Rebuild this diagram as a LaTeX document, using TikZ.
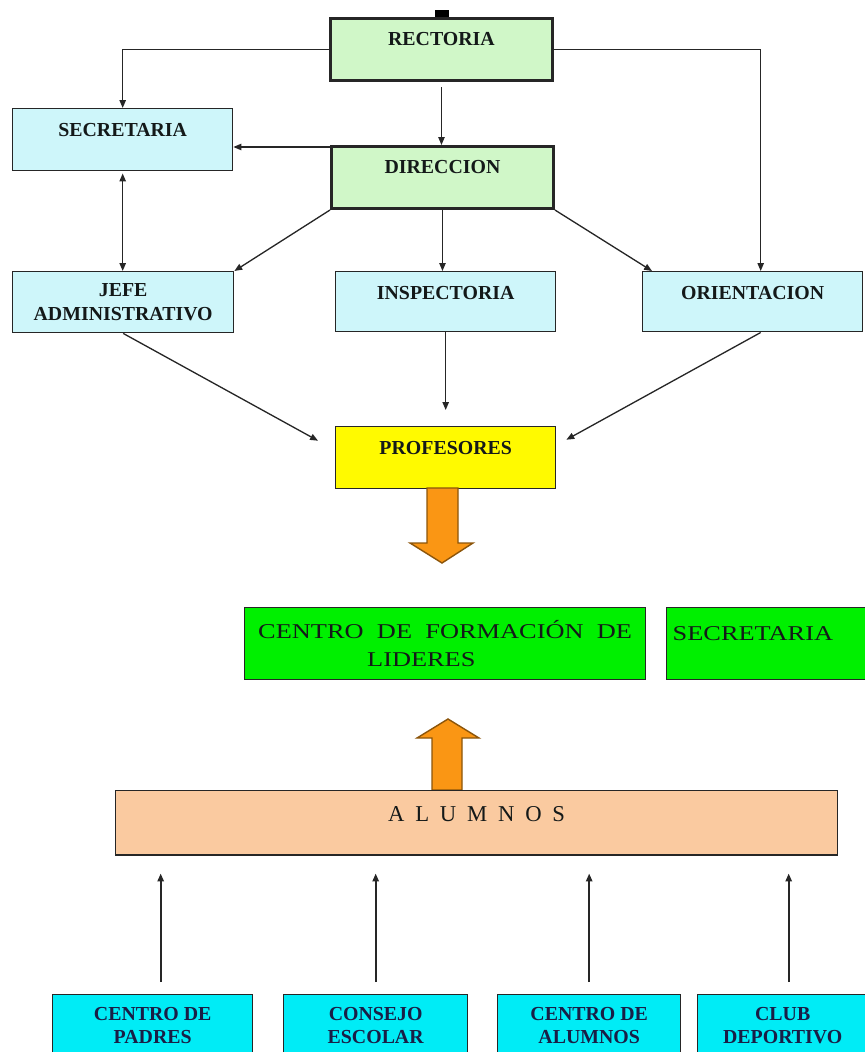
\documentclass[tikz,border=0pt]{standalone}
\usepackage{fontspec}
\setmainfont{Liberation Serif}
\newfontfamily\wideserif[FakeStretch=1.25]{Liberation Serif}
\usetikzlibrary{arrows.meta}

\definecolor{paleGreen}{RGB}{208,247,200}
\definecolor{paleCyan}{RGB}{206,246,250}
\definecolor{profYellow}{RGB}{255,250,0}
\definecolor{liveGreen}{RGB}{0,240,0}
\definecolor{peach}{RGB}{250,202,160}
\definecolor{aqua}{RGB}{0,236,246}
\definecolor{arrowOrange}{RGB}{250,150,20}
\definecolor{arrowEdge}{RGB}{140,85,10}
\definecolor{textDark}{RGB}{20,25,25}
\definecolor{textNavy}{RGB}{25,30,70}

\newcommand{\boxfont}{\fontsize{11.3}{13.4}\selectfont\bfseries}

\tikzset{
  conn/.style={->, line width=0.75pt, black!85},
  box/.style={draw=black!85, line width=0.8pt, anchor=north west, inner sep=0pt,
    align=center, font=\boxfont, text=textDark},
  boss/.style={box, fill=paleGreen, line width=1.7pt, minimum width=4.44cm},
  office/.style={box, fill=paleCyan, minimum width=4.4cm},
  toptext/.style={text height=15.6pt, text depth=19.7pt},
  club/.style={box, fill=aqua, minimum height=1.24cm, text=textNavy},
  bigarrow/.style={fill=arrowOrange, draw=arrowEdge, line width=0.8pt}
}

\begin{document}
\begin{tikzpicture}[x=0.02cm, y=-0.02cm, >={Triangle[length=4.5pt,width=3.6pt]}]
  \clip (0,0) rectangle (865,1052);

  %% top of the chart
  \fill (435,10) rectangle (449,18);
  \node[boss, toptext] (rectoria) at (329,17) {RECTORIA};
  \node[boss, toptext] (direccion) at (330,145) {DIRECCION};
  \node[office, toptext] (secretaria) at (12,108) {SECRETARIA};
  \node[office, minimum width=4.42cm, minimum height=1.22cm] (jefe) at (12,271) {JEFE\\ADMINISTRATIVO};
  \node[office, toptext, text depth=18.6pt] (inspectoria) at (335,271) {INSPECTORIA};
  \node[office, toptext, text depth=18.6pt] (orientacion) at (642,271) {ORIENTACION};
  \node[box, toptext, fill=profYellow, minimum width=4.4cm] (profesores) at (335,426) {PROFESORES};

  %% the lines between them
  \draw[conn] (rectoria.west) -| (secretaria.north);
  \draw[conn] (rectoria.east) -| ([xshift=0.16cm]orientacion.north);
  \draw[conn, shorten <=0.1cm] (rectoria.south) -- (rectoria.south |- direccion.north);
  \coordinate (dirw) at ([yshift=-0.04cm]direccion.north west);
  \draw[conn] (dirw) -- (dirw -| secretaria.east);
  \draw[conn, <->, shorten <=0.04cm] (secretaria.south) -- (secretaria.south |- jefe.north);
  \draw[conn] (direccion.south west) -- (jefe.north east);
  \draw[conn] (direccion.south) -- (direccion.south |- inspectoria.north);
  \draw[conn] (direccion.south east) -- ([xshift=0.2cm]orientacion.north west);

  \draw[conn] (jefe.south) -- ([xshift=-0.34cm,yshift=0.34cm]profesores.west);
  \draw[conn, shorten >=0.32cm] (inspectoria.south) -- (inspectoria.south |- profesores.north);
  \draw[conn] ([xshift=0.16cm]orientacion.south) -- ([xshift=0.2cm,yshift=0.36cm]profesores.east);

  %% big orange arrows
  \draw[bigarrow] (427,488) -- (458,488) -- (458,543) -- (473,543) -- (442,563)
    -- (410,543) -- (427,543) -- cycle;

  \node[box, fill=liveGreen, minimum width=8.02cm, minimum height=1.44cm, align=left,
    font=\wideserif\fontsize{12}{16}\selectfont] (lideres) at (244,607)
    {\spaceskip=7.6pt CENTRO DE FORMACIÓN DE\\\hspace*{62pt}LIDERES};
  \node[box, fill=liveGreen, minimum width=4.1cm, align=left, inner xsep=0.12cm,
    text width=3.86cm, text height=18.8pt, text depth=22.2pt,
    font=\wideserif\fontsize{12}{16}\selectfont] (secretaria2) at (666,607) {SECRETARIA};

  \draw[bigarrow] (432,790) -- (432,738) -- (417,738) -- (448,719) -- (479,738)
    -- (462,738) -- (462,790) -- cycle;

  %% students and their groups
  \node[box, fill=peach, minimum width=14.44cm, text height=17.4pt, text depth=19.1pt,
    font=\fontsize{12.9}{15}\selectfont] (alumnos) at (115,790) {\spaceskip=6.15pt A L U M N O S};

  \node[club, minimum width=4cm] (padres) at (52,994) {CENTRO DE\\PADRES};
  \node[club, minimum width=3.68cm] (consejo) at (283,994) {CONSEJO\\ESCOLAR};
  \node[club, minimum width=3.66cm] (calumnos) at (497,994) {CENTRO DE\\ALUMNOS};
  \node[club, minimum width=3.4cm] (deporte) at (697,994) {CLUB\\DEPORTIVO};

  \coordinate (p1) at ([xshift=0.16cm]padres.north);
  \coordinate (p4) at ([xshift=0.12cm]deporte.north);
  \draw[conn, line width=1pt, shorten <=0.24cm, shorten >=0.36cm] (p1) -- (p1 |- alumnos.south);
  \draw[conn, line width=1pt, shorten <=0.24cm, shorten >=0.36cm] (consejo.north) -- (consejo.north |- alumnos.south);
  \draw[conn, line width=1pt, shorten <=0.24cm, shorten >=0.36cm] (calumnos.north) -- (calumnos.north |- alumnos.south);
  \draw[conn, line width=1pt, shorten <=0.24cm, shorten >=0.36cm] (p4) -- (p4 |- alumnos.south);
\end{tikzpicture}
\end{document}
